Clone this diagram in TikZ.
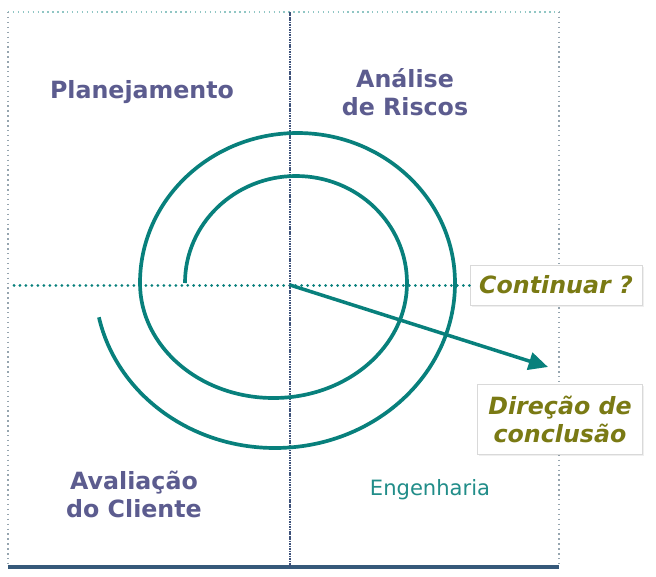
\documentclass[tikz,border=0pt]{standalone}
\usepackage{fontspec}
\setmainfont{DejaVu Sans}
\usepackage{xcolor}
\usepackage{tikz}
\usetikzlibrary{arrows.meta, shadows}
\definecolor{spiralteal}{RGB}{8,128,124}
\definecolor{lilac}{RGB}{92,92,143}
\definecolor{olivetext}{RGB}{122,122,20}
\definecolor{axisblue}{RGB}{62,82,122}
\definecolor{framegray}{RGB}{150,165,175}

\begin{document}
\begin{tikzpicture}[x=0.02cm, y=0.02cm,
    quadrant/.style={text=lilac, align=center, font=\fontsize{13.5}{16}\selectfont\bfseries},
    callout/.style={rectangle, draw=black!15, fill=white, align=center, text=olivetext,
                    font=\fontsize{13.5}{16}\selectfont\bfseries\itshape,
                    drop shadow={opacity=0.12, shadow xshift=1pt, shadow yshift=-1pt}},
    spiral/.style={spiralteal, line width=2.1pt},
    arrow/.style={-{Triangle[length=11pt, width=10pt]}, spiralteal, line width=2pt},
    axisline/.style={axisblue, line width=1.5pt, dash pattern=on 0.9pt off 0.5pt},
    hline/.style={spiralteal, line width=1.7pt, line cap=round, dash pattern=on 0.01pt off 3.4pt}
  ]
    \useasboundingbox (-290,-291) rectangle (366,285);
    \fill[white] (-290,-291) rectangle (366,285);

    \coordinate (nw) at (-282,273);
    \coordinate (ne) at (269,273);
    \coordinate (sw) at (-282,-282);
    \coordinate (se) at (269,-282);
    \coordinate (top) at (0,273);
    \coordinate (bottom) at (0,-282);
    \coordinate (west) at (-276,0);
    \coordinate (centre) at (0,0);
    \coordinate (tip) at (258,-82);

    \draw[spiralteal!45, line width=0.8pt, dotted] (nw) -- (ne);
    \draw[framegray, line width=0.8pt, dotted] (nw) -- (sw);
    \draw[framegray, line width=0.8pt, dotted] (ne) -- (se);
    \draw[axisblue!85!spiralteal, line width=1.8pt] (sw) -- (se);

    \node[quadrant] at (-148,193) (plan) {Planejamento};
    \node[quadrant] at (115,193) (risk) {Análise\\de Riscos};
    \node[quadrant] at (-156,-209) (eval) {Avaliação\\do Cliente};
    \node[text=spiralteal!90!white, font=\fontsize{12}{14}\selectfont] at (140,-205) (eng) {Engenharia};

    \node[callout, minimum width=3.44cm, minimum height=0.8cm] at (266,0) (cont) {Continuar ?};
    \node[callout, minimum width=3.3cm, minimum height=1.4cm] at (270,-134) (dir) {Direção de\\conclusão};

    \draw[hline] (west) -- (cont.west);
    \draw[axisline] (top) -- (bottom);

    \draw[spiral] (-105,2)
      arc[start angle=180, end angle=0, x radius=111, y radius=107]
      arc[start angle=0, end angle=-180, x radius=133.5, y radius=115]
      arc[start angle=180, end angle=0, x radius=157.5, y radius=150]
      arc[start angle=0, end angle=-168, x radius=180, y radius=165];

    \draw[arrow] (centre) -- (tip);
  \end{tikzpicture}
\end{document}
